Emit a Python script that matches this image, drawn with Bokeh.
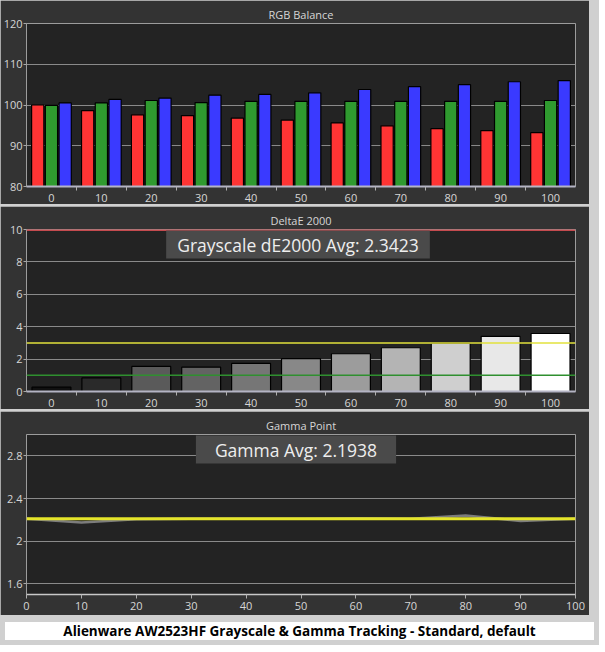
from bokeh.plotting import figure
from bokeh.models import FixedTicker, Span, Label, Div, Range1d, ColumnDataSource
from bokeh.layouts import column
from bokeh.transform import dodge
from bokeh.embed import file_html
from bokeh.resources import INLINE

# ---------------- data ----------------
levels = [0, 10, 20, 30, 40, 50, 60, 70, 80, 90, 100]
red = [100.0, 98.6, 97.6, 97.4, 96.8, 96.3, 95.6, 94.9, 94.2, 93.7, 93.2]
green = [99.9, 100.5, 101.1, 100.6, 100.9, 100.9, 100.9, 100.9, 100.9, 100.9, 101.1]
blue = [100.5, 101.4, 101.7, 102.4, 102.6, 103.0, 103.8, 104.5, 105.0, 105.7, 106.0]
delta_e = [0.27, 0.84, 1.55, 1.5, 1.73, 2.03, 2.33, 2.7, 2.98, 3.4, 3.58]
gamma = [2.21, 2.175, 2.205, 2.21, 2.21, 2.21, 2.215, 2.21, 2.24, 2.19, 2.21]
gamma_target = 2.21
de_limits = {"red": 10, "yellow": 3, "green": 1}
rgb_ticks = [80, 90, 100, 110, 120]
de_ticks = [0, 2, 4, 6, 8, 10]
gamma_ticks = [1.6, 2, 2.4, 2.8]
de_avg_text = "Grayscale dE2000 Avg: 2.3423"
gamma_avg_text = "Gamma Avg: 2.1938"
caption = "Alienware AW2523HF Grayscale & Gamma Tracking - Standard, default"

# ---------------- styles ----------------
W = 589
BORDER = "#333333"
BG = "#232323"
GRID = "#8a8a8a"
TXT = "#d6d6d6"
FONT = "Open Sans"
de_colors = ["#101010", "#2a2a2a", "#5a5a5a", "#636363", "#767676", "#888888",
             "#9c9c9c", "#b4b4b4", "#cfcfcf", "#e8e8e8", "#ffffff"]

src = ColumnDataSource(dict(level=levels, red=red, green=green, blue=blue,
                            de=delta_e, gamma=gamma, decol=de_colors))
bounds = [l + 5 for l in levels[:-1]]


def make_fig(height, xr, yr, title, left, right, top, bottom, toff):
    p = figure(width=W, height=height, x_range=xr, y_range=yr, title=title,
               output_backend="svg", toolbar_location=None,
               min_border_left=left, min_border_right=right,
               min_border_top=top, min_border_bottom=bottom)
    p.background_fill_color = BG
    p.border_fill_color = BORDER
    p.outline_line_color = "#9c9c9c"
    p.outline_line_width = 1
    p.title.align = "center"
    p.title.offset = toff
    p.title.standoff = 4
    p.title.text_color = TXT
    p.title.text_font = FONT
    p.title.text_font_size = "11px"
    p.title.text_font_style = "normal"
    p.xgrid.grid_line_color = None
    p.ygrid.grid_line_color = GRID
    p.ygrid.grid_line_width = 1
    for ax in (p.xaxis, p.yaxis):
        ax.major_label_text_color = TXT
        ax.major_label_text_font = FONT
        ax.major_label_text_font_size = "11px"
    p.yaxis.axis_line_color = None
    p.yaxis.major_tick_line_color = "#a8a8a8"
    p.yaxis.major_tick_out = 3
    p.yaxis.major_tick_in = 0
    p.yaxis.minor_tick_line_color = None
    p.yaxis.major_label_standoff = 1
    return p


def cat_xaxis(p):
    p.xaxis.ticker = FixedTicker(ticks=levels, minor_ticks=bounds)
    p.xaxis.major_tick_line_color = None
    p.xaxis.major_tick_out = 0
    p.xaxis.major_tick_in = 0
    p.xaxis.minor_tick_line_color = "#b0b0b0"
    p.xaxis.minor_tick_out = 4
    p.xaxis.minor_tick_in = 0
    p.xaxis.axis_line_color = "#b4b4c4"
    p.xaxis.axis_line_width = 2
    p.xaxis.major_label_standoff = 3


# ---------------- RGB balance ----------------
p1 = make_fig(204, Range1d(-5, 105), Range1d(80, 120), "RGB Balance", 25, 14, 23, 18, -10)
cat_xaxis(p1)
p1.yaxis.ticker = FixedTicker(ticks=rgb_ticks)
bw = 2.45
for col, off, fill in (("red", -2.75, "#ff3434"), ("green", 0.0, "#2f9a2f"), ("blue", 2.75, "#3a3aff")):
    p1.vbar(x=dodge("level", off, range=p1.x_range), top=col, bottom=80, width=bw,
            source=src, fill_color=fill, line_color="black", line_width=1.2)

# ---------------- DeltaE ----------------
p2 = make_fig(203, Range1d(-5, 105), Range1d(0, 10), "DeltaE 2000", 20, 14, 23, 17, -8)
cat_xaxis(p2)
p2.yaxis.ticker = FixedTicker(ticks=de_ticks)
p2.vbar(x="level", top="de", bottom=0, width=7.8, source=src,
        fill_color="decol", line_color="black", line_width=1.2)
p2.add_layout(Span(location=de_limits["yellow"], dimension="width", line_color="#e2e23c", line_width=1.5))
p2.add_layout(Span(location=de_limits["green"], dimension="width", line_color="#2f8f2f", line_width=1.5))
p2.add_layout(Span(location=de_limits["red"], dimension="width", line_color="#c44a4e", line_width=3))
p2.add_layout(Label(x=50, y=10, text=de_avg_text, text_align="center", text_baseline="top",
                    x_offset=-3, y_offset=-1, text_color="#eeeeee", text_font=FONT,
                    text_font_size="17.5px", background_fill_color="#4a4a4a",
                    padding=(11, 2)))

# ---------------- Gamma ----------------
p3 = make_fig(204, Range1d(0, 100), Range1d(1.5, 3.0), "Gamma Point", 23, 14, 23, 21, -9)
p3.xaxis.ticker = FixedTicker(ticks=levels)
p3.xaxis.minor_tick_line_color = None
p3.xaxis.major_tick_line_color = "#b0b0b0"
p3.xaxis.major_tick_out = 4
p3.xaxis.major_tick_in = 0
p3.xaxis.axis_line_color = "#c8c8c8"
p3.xaxis.axis_line_width = 1.5
p3.xaxis.major_label_standoff = 3
p3.yaxis.ticker = FixedTicker(ticks=gamma_ticks)
p3.yaxis.major_label_overrides = {2: "2"}
p3.line(x="level", y="gamma", source=src, line_color="#7c7c7c", line_width=2.5)
p3.add_layout(Span(location=gamma_target, dimension="width", line_color="#e4e42a", line_width=3))
p3.add_layout(Label(x=50, y=3.0, text=gamma_avg_text, text_align="center", text_baseline="top",
                    x_offset=-5, y_offset=-1, text_color="#eeeeee", text_font=FONT,
                    text_font_size="17.5px", background_fill_color="#4a4a4a",
                    padding=(19, 2)))

# ---------------- caption ----------------
cap = Div(text=caption, width=W, height=18,
          styles={"background-color": "white", "text-align": "center",
                  "font-family": "Open Sans", "font-weight": "bold",
                  "font-size": "13.5px", "color": "black", "line-height": "18px",
                  "white-space": "nowrap"})

layout = column(p1, p2, p3, cap, spacing=2, styles={"background-color": "#d0d0d0"})

open("out.html", "w").write(file_html(layout, INLINE))
